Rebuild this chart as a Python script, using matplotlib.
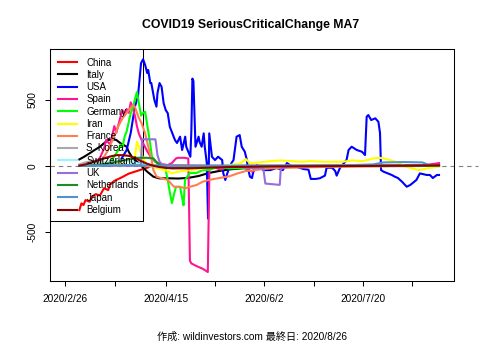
import matplotlib
matplotlib.use("Agg")
import matplotlib.pyplot as plt
from matplotlib.patches import Rectangle

plt.rcParams['font.family'] = ['Liberation Sans', 'Noto Sans CJK JP', 'DejaVu Sans']

# day offsets counted from 2020/2/26, values = 7-day MA of daily change in serious/critical cases
china_days = [7, 8, 9, 10, 12, 13, 15, 17, 19, 21, 22, 24, 26, 28, 31, 34, 37, 40, 42, 45, 55, 70, 90, 120, 150, 182]
china_vals = [-336, -285, -298, -260, -273, -235, -215, -225, -170, -185, -140, -115, -100, -85, -60, -45, -30, -15, -5, 0, 2, 0, 0, 0, 0, 1]

italy_days = [7, 9, 12, 14, 17, 19, 21, 23, 25, 27, 30, 31, 33, 36, 38, 40, 43, 46, 50, 55, 60, 65, 70, 75, 80, 90, 100, 110, 130, 160, 182]
italy_vals = [48, 65, 94, 115, 144, 170, 195, 200, 195, 170, 144, 106, 56, 18, -15, -45, -83, -96, -95, -97, -92, -78, -55, -40, -28, -15, -8, -3, 0, 3, 5]

usa_days = [20, 24, 27, 30, 32, 34, 35.5, 37, 38, 39, 40, 40.5, 41.5, 42, 43.5, 44.5, 45, 46, 47, 48, 49, 50, 51,
            53.5, 54.5, 56, 57, 58.5, 59, 61, 61.5, 62, 62.5, 63.5, 65, 65.5, 66.5, 67.5, 68, 69, 69.6, 70.2, 71.5,
            73, 74.5, 76.5, 77, 78, 79.5, 81, 82, 83.5, 85, 86, 87.5, 88.5, 89, 90, 91, 91.5, 92.5, 93.5, 95, 96.5,
            100, 103, 106, 108, 110, 113, 116, 118.5, 119.6, 122, 124, 126.5, 127.3, 130, 131.5, 132.2, 133.8, 137,
            138, 139.5, 142, 144.5, 146, 146.8, 147.6, 149, 151, 152.5, 153.3, 153.8, 155, 159, 160.5, 162, 164,
            165.5, 166.3, 168, 171, 172.7, 176, 177.6, 179, 181, 182]
usa_vals = [0, 10, 40, 119, 250, 447, 523, 776, 806, 763, 702, 725, 626, 626, 498, 447, 550, 626, 598, 474, 422, 398, 295,
            195, 172, 220, 119, 220, 144, 68, 270, 660, 640, 144, 220, 180, 144, 245, 144, 20, -400, 245, 68,
            43, 68, 43, -55, -108, -33, 20, 43, 220, 232, 144, 106, 43, -17, -83, -93, -55, -8, 5, -17, -33,
            -33, -17, -33, 20, 0, -10, -25, -30, -100, -100, -95, -75, -15, -15, -40, -75, -17, 43,
            119, 144, 119, 106, 81, 371, 384, 346, 359, 333, 248, -33, -45, -70, -83, -93, -121,
            -146, -159, -146, -108, -58, -70, -70, -93, -70, -70]

spain_days = [14, 17, 19, 20, 22, 24, 25, 27, 28, 29, 30, 31, 32, 33, 34, 35, 36, 38, 40, 42, 44, 46, 48, 50, 52, 54,
              55, 58, 60, 60.8, 61.5, 64, 67, 69.5, 70.3, 72, 74, 76, 78, 82, 86, 90, 91, 93, 100, 120, 140, 160,
              175, 180, 182]
spain_vals = [10, 60, 130, 195, 160, 300, 250, 370, 420, 380, 430, 400, 480, 440, 380, 300, 240, 170, 110, 60, 30, 15, 10, 5, 20, 55,
              60, 60, 55, -720, -740, -760, -780, -805, 0, -5, -20, -30, -15, -10, -10, -35, -45, -10, -5, -3, 0, 0,
              5, 15, 20]

germany_days = [10, 15, 20, 22, 24, 26, 27, 28, 29, 30, 31, 32, 33, 34, 35, 36, 37, 38, 39, 40, 41.4, 42.3, 44, 46, 48.7,
                50, 51, 52, 53, 54, 56, 57, 57.7, 58.4, 59.4, 60.8, 64, 67, 70, 74, 80, 90, 100, 120, 150, 182]
germany_vals = [0, 5, 15, 30, 70, 120, 160, 140, 220, 260, 330, 400, 440, 500, 558, 470, 380, 400, 409, 310, 172, 68, 30, 5, -10,
                -108, -200, -283, -220, -160, -160, -245, -300, -108, -85, -55, -55, -33, -33, -10, -20, -15, -10, -5, -3, 0]

iran_days = [7, 15, 25, 34, 35, 36, 37, 38.5, 40, 45, 50, 52, 55, 60, 65, 70, 75, 80, 85, 88, 90, 95, 100, 105, 110, 115,
             120, 125, 130, 135, 140, 145, 150, 153, 155, 158, 161, 163, 166, 169, 172, 175, 178, 182]
iran_vals = [0, 10, 20, 60, 182, 144, 94, 43, 0, -20, -40, -58, -45, -35, -25, -15, -5, 5, 15, 50, 20, 25, 35, 40, 35, 30,
             35, 30, 30, 30, 40, 35, 55, 60, 56, 43, 30, 18, -8, -20, -33, -25, -15, -8]

france_days = [12, 15, 18, 21, 23, 26, 28, 31, 33, 34, 35.7, 37.3, 39, 40.5, 42.2, 43, 44.6, 47, 50, 53, 56, 58.5, 61, 64,
               67, 70, 74, 80, 84, 88, 92, 96, 100, 110, 130, 150, 170, 182]
france_vals = [0, 10, 40, 120, 190, 300, 360, 420, 460, 447, 371, 321, 245, 144, 43, -33, -83, -95, -108, -159, -160, -171, -159, -146,
               -121, -108, -96, -80, -58, -40, -35, -25, -20, -15, -8, -5, -3, 0]

skorea_days = [7, 10, 13, 16, 20, 25, 30, 40, 60, 100, 140, 182]
skorea_vals = [10, 25, 35, 30, 20, 10, 5, 0, -2, 0, 0, 2]

swiss_days = [7, 15, 22, 27, 32, 38, 45, 55, 70, 100, 182]
swiss_vals = [0, 10, 30, 40, 30, 10, -10, -15, -5, 0, 0]

uk_days = [7, 20, 30, 37, 37.5, 44, 45, 46, 48, 60, 80, 96.5, 97.5, 104.5, 105, 108, 130, 182]
uk_vals = [0, 0, 0, 0, 200, 200, 80, 30, 0, -5, -5, -20, -135, -145, -25, -5, 0, 0]

netherlands_days = [7, 15, 20, 25, 30, 35, 40, 43, 45, 48, 52, 60, 70, 90, 182]
netherlands_vals = [0, 5, 15, 30, 45, 60, 60, 55, 20, -10, -20, -15, -8, -3, 0]

japan_days = [7, 30, 60, 90, 120, 140, 150, 155, 165, 174, 177, 182]
japan_vals = [0, 3, 0, 0, 2, 5, 10, 25, 28, 25, 5, 0]

belgium_days = [7, 10, 14, 18, 22, 25, 28, 31, 34, 37, 40, 43, 46, 50, 60, 70, 80, 100, 130, 160, 182]
belgium_vals = [0, 10, 30, 50, 70, 80, 80, 75, 60, 35, 15, 0, -10, -18, -20, -15, -10, -5, -3, 0, 3]

countries = ['China', 'Italy', 'USA', 'Spain', 'Germany', 'Iran', 'France', 'S. Korea',
             'Switzerland', 'UK', 'Netherlands', 'Japan', 'Belgium']
series = [(china_days, china_vals), (italy_days, italy_vals), (usa_days, usa_vals),
          (spain_days, spain_vals), (germany_days, germany_vals), (iran_days, iran_vals),
          (france_days, france_vals), (skorea_days, skorea_vals), (swiss_days, swiss_vals),
          (uk_days, uk_vals), (netherlands_days, netherlands_vals), (japan_days, japan_vals),
          (belgium_days, belgium_vals)]
colors = ['#FF0000', '#000000', '#0000FF', '#FF1493', '#00FF00', '#FFFF00', '#FF7F50',
          '#A9A9A9', '#98F5FF', '#9370DB', '#228B22', '#4F94CD', '#8B0000']

tick_days = [0, 24.5, 49, 73, 97, 121, 145, 169]
tick_labels = ['2020/2/26', '', '2020/4/15', '', '2020/6/2', '', '2020/7/20', '']

fig = plt.figure(figsize=(4.8, 3.43), dpi=100)
ax = fig.add_axes([50 / 480, 62 / 343, 404 / 480, 232 / 343])

for name, (d, v), c in zip(countries, series, colors):
    ax.plot(d, v, color=c, lw=1.5, label=name)

# zero reference line runs a little past the right edge
ax.plot([0, 1.059], [0, 0], transform=ax.get_yaxis_transform(), color='#808080',
        lw=0.8, dashes=(4, 3.5), clip_on=False, zorder=0.5)

ax.set_xlim(-7.3, 189.3)
ax.set_ylim(-873, 884)
ax.set_xticks(tick_days)
ax.set_xticklabels(tick_labels)
ax.set_yticks([-500, 0, 500])
ax.set_yticklabels(['-500', '0', '500'], rotation=90, va='center')
ax.tick_params(direction='out', length=3.6, width=0.75, labelsize=7.3, pad=5.5)
for s in ax.spines.values():
    s.set_linewidth(0.75)

ax.add_patch(Rectangle((0, 1 - 172 / 232), 93 / 404, 172 / 232, transform=ax.transAxes,
                       fill=False, lw=0.75, edgecolor='black', clip_on=False))
ax.legend(loc='upper left', bbox_to_anchor=(8.3 / 404, 1 - 8.5 / 232), borderaxespad=0,
          borderpad=0, frameon=False, fontsize=7.0, handlelength=1.95, handletextpad=0.95,
          labelspacing=0.235)

fig.text(251 / 480, 1 - 25 / 343, 'COVID19 SeriousCriticalChange MA7', ha='center', va='center',
         fontsize=8.85, fontweight='bold')
fig.text(252 / 480, 1 - 337 / 343, '作成: wildinvestors.com 最終日: 2020/8/26', ha='center',
         va='center', fontsize=7.3)

fig.savefig('out.png', dpi=100)
